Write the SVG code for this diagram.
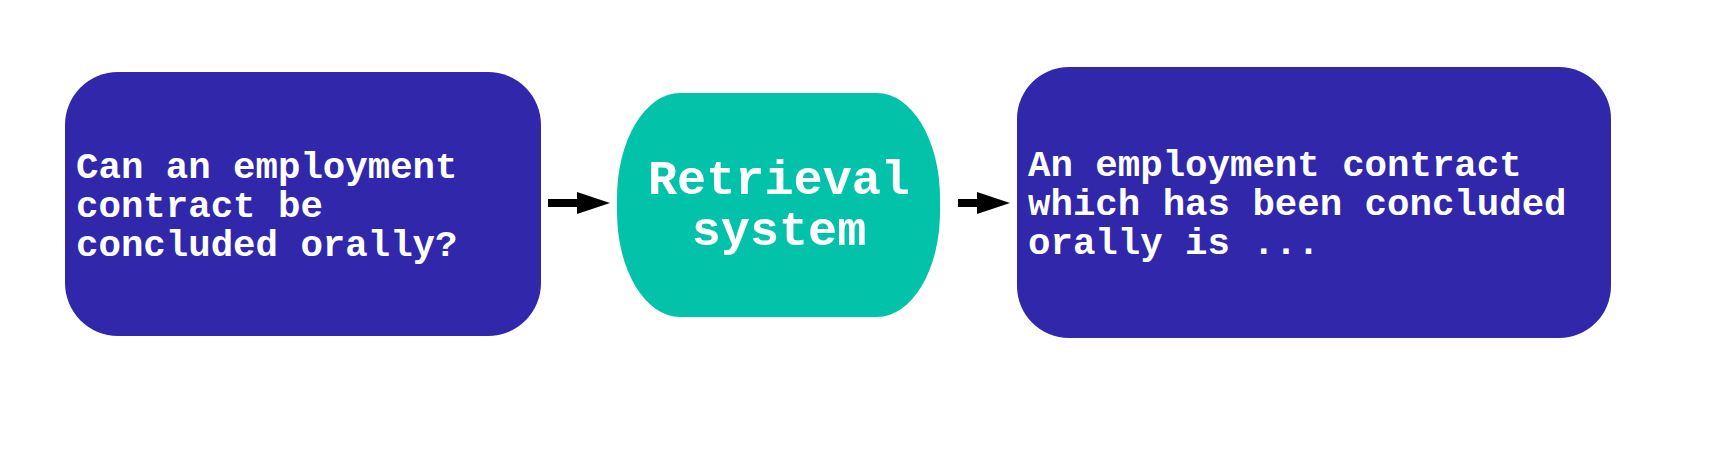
<svg xmlns="http://www.w3.org/2000/svg" width="1713" height="474" viewBox="0 0 1713 474">
<defs>
<style>
.box{fill:#3027ab;}
.ret{fill:#02c2a9;}
.t{font-family:"Liberation Mono","DejaVu Sans Mono",monospace;font-weight:bold;fill:#ffffff;font-size:37.4px;}
.tc{font-family:"Liberation Mono","DejaVu Sans Mono",monospace;font-weight:bold;fill:#ffffff;font-size:48.5px;text-anchor:middle;}
.conn{stroke:#000;stroke-width:8;fill:none;marker-end:url(#ah);}
</style>
<marker id="ah" markerUnits="userSpaceOnUse" markerWidth="33" markerHeight="22" refX="0" refY="11" orient="auto">
<path d="M0,0 L33,11 L0,22 Z" fill="#000"/>
</marker>
</defs>
<rect width="1713" height="474" fill="#ffffff"/>
<g id="connectors">
<line class="conn" x1="548" y1="203" x2="577" y2="203"/>
<line class="conn" x1="958" y1="203" x2="977" y2="203"/>
</g>
<g id="question">
<rect class="box" x="65" y="72" width="476" height="264" rx="53" ry="53"/>
<text class="t" x="76" y="178">Can an employment</text>
<text class="t" x="76" y="217">contract be</text>
<text class="t" x="76" y="256">concluded orally?</text>
</g>
<g id="retrieval">
<rect class="ret" x="617" y="93" width="323" height="224" rx="63" ry="105"/>
<text class="tc" x="779" y="194">Retrieval</text>
<text class="tc" x="779" y="245">system</text>
</g>
<g id="answer">
<rect class="box" x="1017" y="67" width="594" height="271" rx="52" ry="52"/>
<text class="t" x="1028" y="176">An employment contract</text>
<text class="t" x="1028" y="215">which has been concluded</text>
<text class="t" x="1028" y="254">orally is ...</text>
</g>
</svg>
